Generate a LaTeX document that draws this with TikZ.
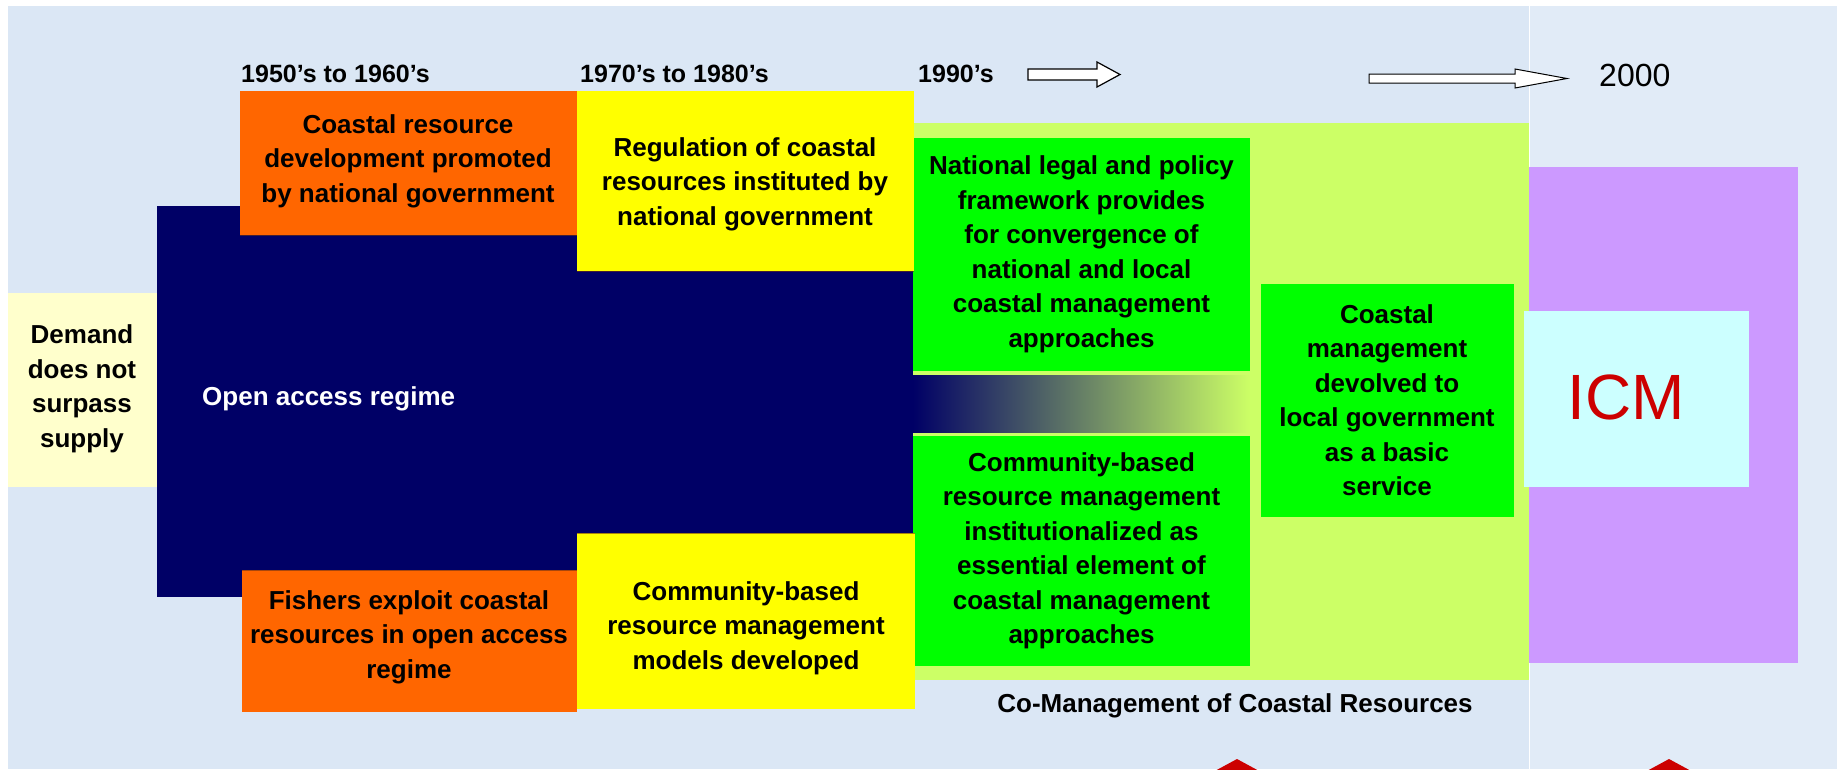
\documentclass[tikz,border=0pt]{standalone}
\usepackage{fontspec}
\setmainfont{Liberation Sans}
\definecolor{bgblue}{RGB}{219,231,245}
\definecolor{bgblueR}{RGB}{225,235,247}
\definecolor{navyC}{RGB}{0,0,102}
\definecolor{orangeC}{RGB}{255,102,0}
\definecolor{yellowC}{RGB}{255,255,0}
\definecolor{limeC}{RGB}{204,255,102}
\definecolor{greenC}{RGB}{0,255,0}
\definecolor{purpleC}{RGB}{204,153,255}
\definecolor{cyanC}{RGB}{204,255,255}
\definecolor{creamC}{RGB}{255,255,204}
\definecolor{redC}{RGB}{204,0,0}
\definecolor{shadowC}{RGB}{110,50,20}
\tikzset{
  box/.style={inner sep=0pt, outer sep=0pt, anchor=north west, draw=none},
  lbl/.style={font=\fontsize{26}{34.5}\selectfont\bfseries, align=center, inner sep=0pt, text=black},
  yearlbl/.style={font=\fontsize{25}{30}\selectfont\bfseries, inner sep=0pt, anchor=west},
  blockarrow/.style={draw=black, fill=white, line width=1.2pt, line join=miter},
  edgeline/.style={draw=shadowC, line width=1pt, opacity=0.6},
}
\begin{document}
\begin{tikzpicture}[x=1pt,y=-1pt]
\useasboundingbox (0,0) rectangle (1837,769);
\clip (0,0) rectangle (1837,769);
% background
\fill[white] (0,0) rectangle (1837,769);
\fill[bgblue] (8,6) rectangle (1529,769);
\fill[bgblueR] (1529,6) rectangle (1837,769);
\draw[white, line width=1pt] (1529,6) -- (1529,769);

% navy open access regime
\node[box, fill=navyC, minimum width=756pt, minimum height=391pt] (navy) at (157,206) {};
% demand box
\node[box, fill=creamC, minimum width=149pt, minimum height=194pt] (demand) at (8,293) {};
% co-management area
\node[box, fill=limeC, minimum width=616pt, minimum height=557pt] (coman) at (913,123) {};
% gradient
\node[box, minimum width=337pt, minimum height=57pt, left color=navyC, right color=limeC] (grad) at (913,375) {};
% green boxes
\node[box, fill=greenC, minimum width=337pt, minimum height=233pt] (g1) at (913,138) {};
\node[box, fill=greenC, minimum width=337pt, minimum height=230pt] (g2) at (913,436) {};
\node[box, fill=greenC, minimum width=253pt, minimum height=233pt] (g3) at (1261,284) {};
% orange and yellow boxes
\node[box, fill=orangeC, minimum width=337pt, minimum height=144pt] (o1) at (240,91) {};
\node[box, fill=yellowC, minimum width=337pt, minimum height=180pt] (y1) at (577,91) {};
\node[box, fill=orangeC, minimum width=335pt, minimum height=142pt] (o2) at (242,570) {};
\node[box, fill=yellowC, minimum width=338pt, minimum height=176pt] (y2) at (577,533) {};
\draw[edgeline] (o1.south west) -- (o1.south east);
\draw[edgeline] (y1.south west) -- (y1.south east);
\draw[edgeline] (o2.north west) -- (o2.north east);
\draw[edgeline] (y2.north west) -- (y2.north east);
% ICM
\node[box, fill=purpleC, minimum width=269pt, minimum height=496pt] (icmouter) at (1529,167) {};
\node[box, fill=cyanC, minimum width=225pt, minimum height=176pt] (icmbox) at (1524,311) {};

% texts
\node[lbl] (demandt) at (82,389) {Demand\\does not\\surpass\\supply};
\node[lbl, text=white, anchor=west] (navyt) at (202,399) {Open access regime};
\node[lbl] (o1t) at (408,161) {Coastal resource\\development promoted\\by national government};
\node[lbl] (y1t) at (745,184) {Regulation of coastal\\resources instituted by\\national government};
\node[lbl] (o2t) at (409,637) {Fishers exploit coastal\\resources in open access\\regime};
\node[lbl] (y2t) at (746,628) {Community-based\\resource management\\models developed};
\node[lbl] (g1t) at (g1.center) {National legal and policy\\framework provides\\for convergence of\\national and local\\coastal management\\approaches};
\node[lbl] (g2t) at (g2.center) {Community-based\\resource management\\institutionalized as\\essential element of\\coastal management\\approaches};
\node[lbl] (g3t) at (1387,400) {Coastal\\management\\devolved to\\local government\\as a basic\\service};
\node[lbl] (comant) at (1235,706) {Co-Management of Coastal Resources};
\node[font=\fontsize{64}{70}\selectfont, text=redC, inner sep=0pt] (icmt) at (1626,397) {ICM};

% years
\node[yearlbl] (yr1) at (241,74) {1950’s to 1960’s};
\node[yearlbl] (yr2) at (580,74) {1970’s to 1980’s};
\node[yearlbl] (yr3) at (918,74) {1990’s};
\node[font=\fontsize{32}{36}\selectfont, inner sep=0pt, anchor=west] (yr4) at (1599,75) {2000};

% block arrows
\draw[blockarrow] (1028,69) -- (1097,69) -- (1097,62) -- (1120,74.5) -- (1097,87) -- (1097,80) -- (1028,80) -- cycle;
\draw[blockarrow, line width=1pt] (1369,74) -- (1515,74) -- (1515,69) -- (1567,78.5) -- (1515,88) -- (1515,83) -- (1369,83) -- cycle;

% red shapes at bottom
\fill[redC] (1237,759) -- (1261,772) -- (1213,772) -- cycle;
\fill[redC] (1669,759) -- (1693,772) -- (1645,772) -- cycle;
\end{tikzpicture}
\end{document}
